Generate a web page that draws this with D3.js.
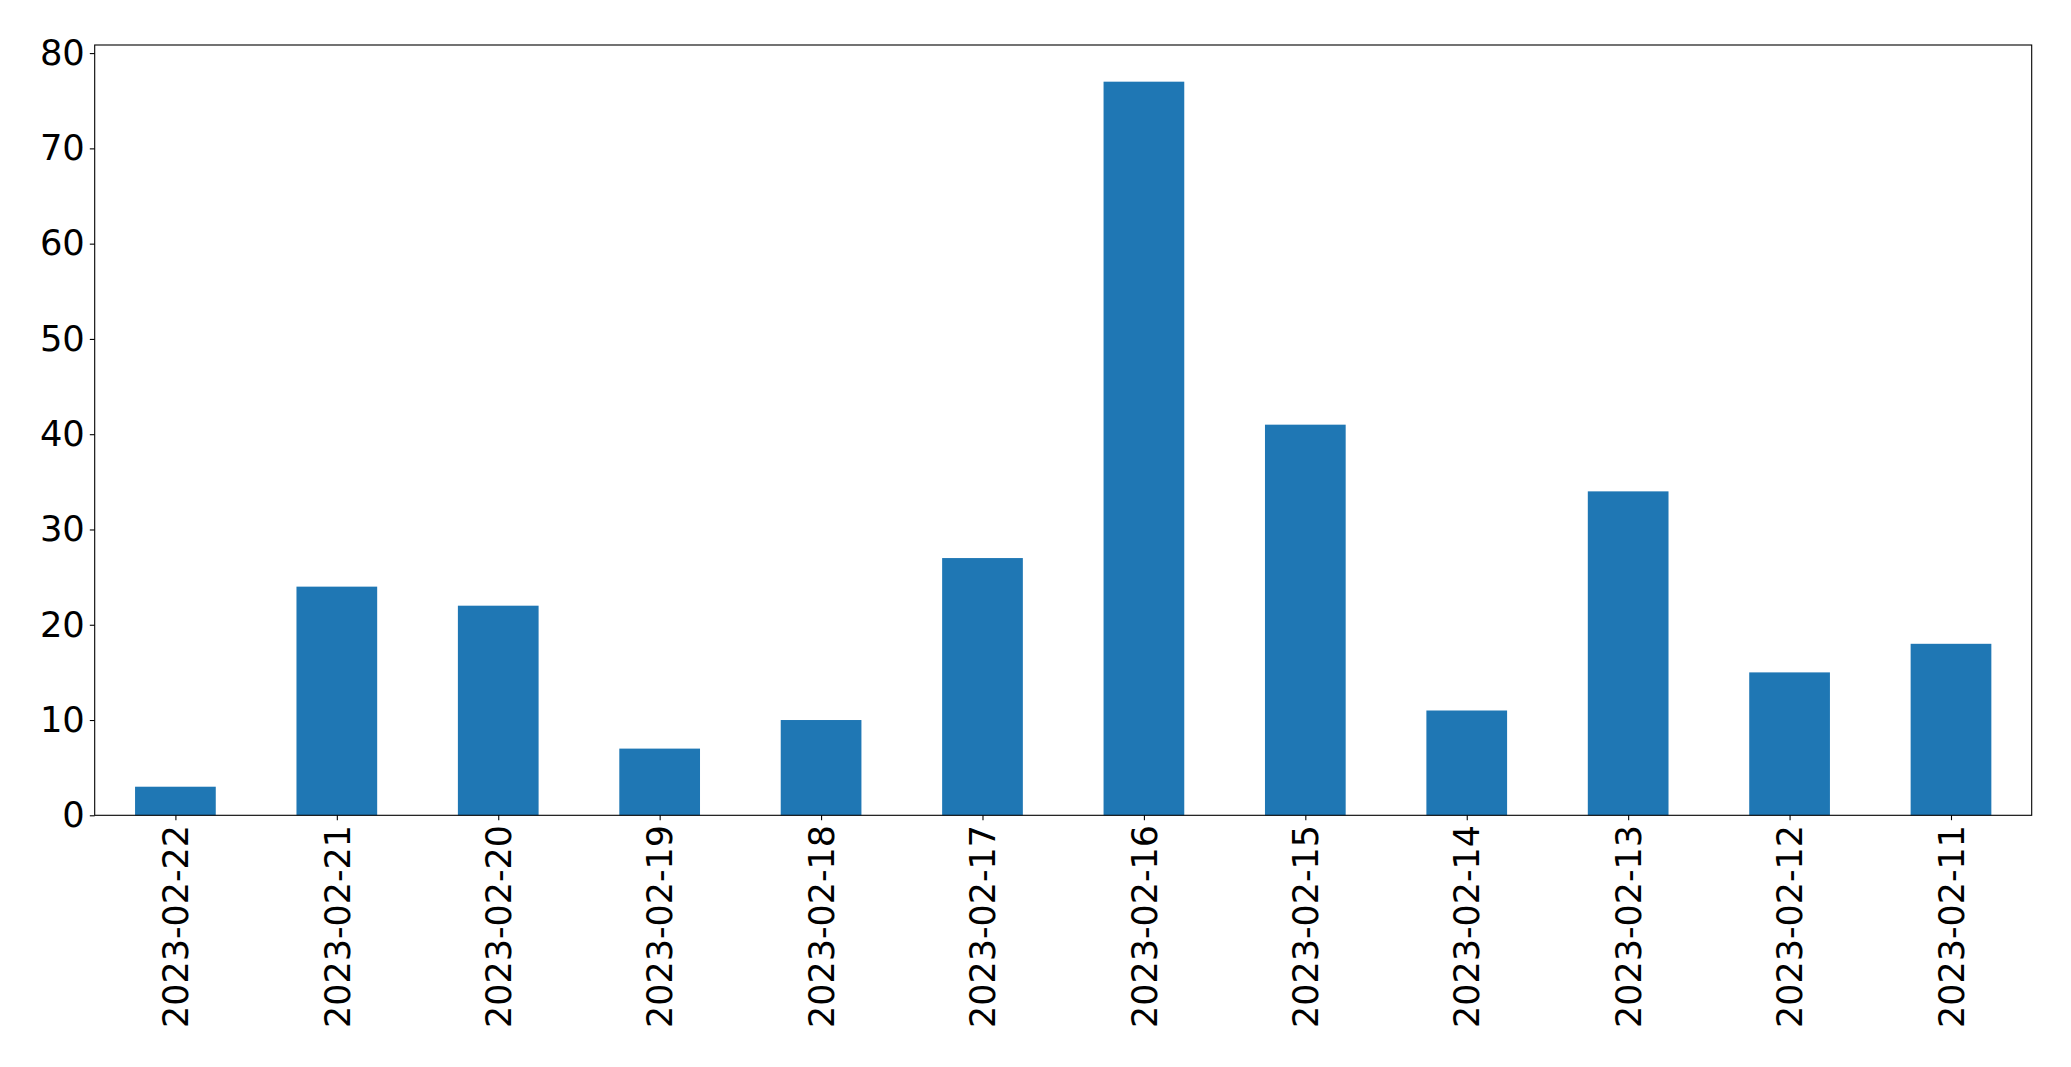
<!DOCTYPE html>
<html><head><meta charset="utf-8">
<script src="https://cdn.jsdelivr.net/npm/d3@7"></script>
<style>body{margin:0;background:#fff;} svg{display:block;}</style>
</head><body>
<script>
const categories = ["2023-02-22","2023-02-21","2023-02-20","2023-02-19","2023-02-18","2023-02-17","2023-02-16","2023-02-15","2023-02-14","2023-02-13","2023-02-12","2023-02-11"];
const values = [3, 24, 22, 7, 10, 27, 77, 41, 11, 34, 15, 18];
const yTicks = [0, 10, 20, 30, 40, 50, 60, 70, 80];

(function () {
const W = 2071, H = 1067;
const mLeft = 94.7, mRight = 2031.7, mTop = 45, mBottom = 815.3;
const svg = d3.select("body").append("svg").attr("width", W).attr("height", H);

const x = d3.scaleLinear().domain([-0.5, categories.length - 0.5]).range([mLeft, mRight]);
const y = d3.scaleLinear().domain([0, d3.max(values) * 1.05]).range([mBottom, mTop]);
const bw = x(0.25) - x(-0.25);

svg.append("g").selectAll("rect").data(values).join("rect")
  .attr("x", (d, i) => x(i) - bw / 2)
  .attr("y", d => y(d))
  .attr("width", bw)
  .attr("height", d => y(0) - y(d))
  .attr("fill", "#1f77b4");

const font = "DejaVu Sans";
const fs = 34.9;
const yAxis = d3.axisLeft(y).tickValues(yTicks).tickSize(4.9).tickPadding(5).tickFormat(d3.format("d"));
const gy = svg.append("g").attr("transform", `translate(${mLeft},0)`).call(yAxis);
gy.select(".domain").remove();
gy.selectAll("line").attr("stroke", "#000").attr("stroke-width", 1.1);
gy.selectAll("text").attr("font-family", font).attr("font-size", 35.3).attr("fill", "#000");

const xAxis = d3.axisBottom(x).tickValues(d3.range(categories.length)).tickSize(4.9).tickPadding(4.9).tickFormat(i => categories[i]);
const gx = svg.append("g").attr("transform", `translate(0,${mBottom})`).call(xAxis);
gx.select(".domain").remove();
gx.selectAll("line").attr("stroke", "#000").attr("stroke-width", 1.1);
gx.selectAll("text")
  .attr("font-family", font).attr("font-size", fs).attr("fill", "#000")
  .attr("transform", "rotate(-90)")
  .attr("text-anchor", "end")
  .attr("x", -9.8).attr("y", 0).attr("dy", "0.35em");

svg.append("rect").attr("x", mLeft).attr("y", mTop).attr("width", mRight - mLeft).attr("height", mBottom - mTop)
  .attr("fill", "none").attr("stroke", "#000").attr("stroke-width", 1.1);
})();
</script>
</body></html>
